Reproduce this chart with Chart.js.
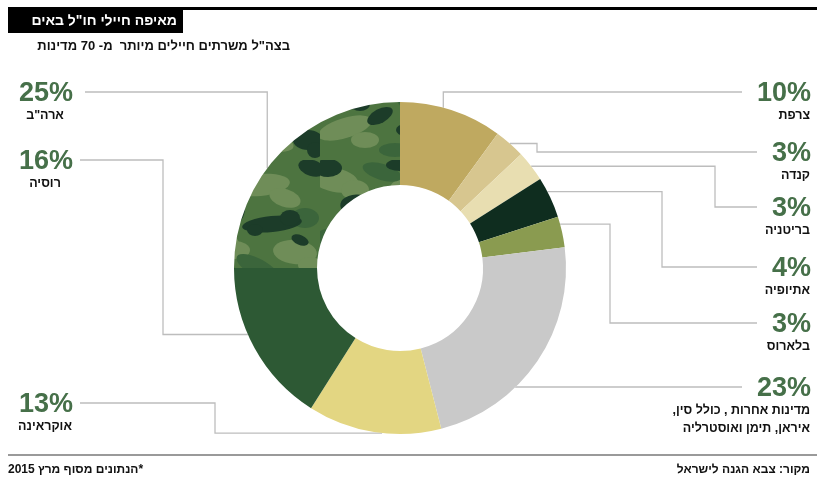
<!DOCTYPE html>
<html lang="he">
<head>
<meta charset="utf-8">
<script src="https://cdn.jsdelivr.net/npm/chart.js@4.4.1/dist/chart.umd.min.js"></script>
<style>
  html, body { margin: 0; padding: 0; background: #fff; }
  #wrap { width: 817px; height: 477px; }
</style>
</head>
<body>
<div id="wrap"><canvas id="soldiers-chart" width="817" height="477"></canvas></div>
<script>
// Data - clockwise from 12 o'clock
const countries = ['צרפת', 'קנדה', 'בריטניה', 'אתיופיה', 'בלארוס',
  'מדינות אחרות , כולל סין,\nאיראן, תימן ואוסטרליה', 'אוקראינה', 'רוסיה', 'ארה"ב'];
const shares = [10, 3, 3, 4, 3, 23, 13, 16, 25]; // percent

const titleText = 'מאיפה חיילי חו"ל באים';
const subtitleText = 'בצה"ל משרתים חיילים מיותר  מ- 70 מדינות';
const noteText = '*הנתונים מסוף מרץ 2015';
const sourceText = 'מקור: צבא הגנה לישראל';

const FONT = '"Liberation Sans", "DejaVu Sans", Arial, sans-serif';

// Callout layout (where the leader line leaves the slice and where the label sits)
const calloutLayout = [
  { side: 'r', t: 0.42, elbowX: null, lineY: 92,  endX: 742 },
  { side: 'r', t: 0.5,  elbowX: 537,  lineY: 152, endX: 757 },
  { side: 'r', t: 0.5,  elbowX: 715,  lineY: 207, endX: 757 },
  { side: 'r', t: 0.35, elbowX: 662,  lineY: 267, endX: 757 },
  { side: 'r', t: 0.25, elbowX: 610,  lineY: 323, endX: 757 },
  { side: 'r', t: 0.64, elbowX: null, lineY: 387, endX: 742 },
  { side: 'l', t: 0.44, elbowX: 215,  lineY: 403, endX: 80 },
  { side: 'l', t: 0.59, elbowX: 163,  lineY: 160, endX: 80 },
  { side: 'l', t: 0.41, elbowX: null, lineY: 92,  endX: 85 }
];

// camouflage texture for the US slice (irregular blobs built from overlapping ellipses)
function camoPattern() {
  const c = document.createElement('canvas');
  c.width = 160; c.height = 160;
  const g = c.getContext('2d');
  g.fillStyle = '#4d7440';
  g.fillRect(0, 0, 160, 160);
  const blobs = (color, list) => {
    g.fillStyle = color;
    list.forEach(b => {
      g.beginPath();
      g.ellipse(b[0], b[1], b[2], b[3], b[4], 0, Math.PI * 2);
      g.fill();
    });
  };
  // light olive patches
  blobs('#6f8d58', [
    [15, 20, 24, 12, 0.2], [35, 30, 14, 10, 0], [100, 25, 30, 11, -0.1], [125, 38, 16, 9, 0.3],
    [55, 78, 26, 13, 0.4], [75, 90, 15, 9, 0], [135, 92, 22, 12, 0.1], [150, 105, 12, 8, 0],
    [25, 128, 28, 10, -0.3], [45, 140, 14, 8, 0], [110, 142, 24, 9, 0.2]
  ]);
  // mid green
  blobs('#3b653b', [
    [62, 12, 20, 8, 0.3], [145, 58, 14, 10, 0], [10, 78, 18, 10, -0.2],
    [98, 108, 24, 9, 0.5], [75, 150, 16, 7, 0]
  ]);
  // dark streaks
  blobs('#1c3c29', [
    [42, 48, 22, 13, 0.2], [58, 42, 12, 9, -0.4], [28, 55, 10, 7, 0],
    [112, 64, 30, 8, -0.1], [130, 58, 10, 8, 0], [95, 70, 8, 6, 0],
    [78, 50, 7, 14, 0.2],
    [22, 100, 26, 9, 0.1], [40, 104, 10, 7, 0], [5, 96, 8, 6, 0],
    [108, 124, 20, 10, 0.7], [120, 132, 10, 7, 0],
    [148, 140, 15, 10, 0], [155, 150, 8, 8, 0],
    [8, 8, 14, 9, 0], [152, 8, 14, 8, 0.3], [80, 5, 14, 6, 0],
    [60, 116, 14, 7, -0.5], [85, 130, 9, 6, 0], [140, 80, 9, 5, 0.4]
  ]);
  return g.createPattern(c, 'repeat');
}

const sliceColors = ['#bfa960', '#d7c68f', '#e8deb1', '#0f2d1f', '#8a9b50',
  '#c9c9c9', '#e3d682', '#2d5934', camoPattern()];

const leaderLines = {
  id: 'leaderLines',
  beforeDatasetsDraw(chart) {
    const ctx = chart.ctx;
    const arcs = chart.getDatasetMeta(0).data;
    ctx.save();
    ctx.strokeStyle = '#bdbdbd';
    ctx.lineWidth = 1.3;
    arcs.forEach((arc, i) => {
      const lay = calloutLayout[i];
      const a = arc.startAngle + lay.t * (arc.endAngle - arc.startAngle);
      const ax = arc.x + Math.cos(a) * arc.outerRadius;
      const ay = arc.y + Math.sin(a) * arc.outerRadius;
      ctx.beginPath();
      ctx.moveTo(ax, ay);
      if (lay.elbowX !== null) {
        ctx.lineTo(lay.elbowX, ay);
        ctx.lineTo(lay.elbowX, lay.lineY);
      } else {
        ctx.lineTo(ax, lay.lineY);
      }
      ctx.lineTo(lay.endX, lay.lineY);
      ctx.stroke();
    });
    ctx.restore();
  },
  afterDraw(chart) {
    const ctx = chart.ctx;
    ctx.save();
    ctx.textBaseline = 'middle';

    // header
    ctx.fillStyle = '#000';
    ctx.fillRect(8, 7, 809, 3);
    ctx.fillRect(8, 7, 175, 26);
    ctx.direction = 'rtl';
    ctx.textAlign = 'right';
    ctx.fillStyle = '#fff';
    ctx.font = 'bold 14px ' + FONT;
    ctx.fillText(titleText, 177, 21);
    ctx.fillStyle = '#111';
    ctx.font = 'bold 13px ' + FONT;
    ctx.fillText(subtitleText, 290, 46);

    // footer
    ctx.fillStyle = '#9a9a9a';
    ctx.fillRect(8, 454, 809, 2);
    ctx.fillStyle = '#111';
    ctx.font = 'bold 12px ' + FONT;
    ctx.textAlign = 'left';
    ctx.fillText(noteText, 8, 470);
    ctx.textAlign = 'right';
    ctx.fillText(sourceText, 810, 470);

    // callout labels
    countries.forEach((name, i) => {
      const lay = calloutLayout[i];
      const right = lay.side === 'r';
      ctx.direction = 'ltr';
      ctx.textAlign = 'right';
      ctx.fillStyle = '#467049';
      ctx.font = 'bold 27px ' + FONT;
      ctx.fillText(shares[i] + '%', right ? 811 : 73, lay.lineY + 2);
      ctx.direction = 'rtl';
      ctx.fillStyle = '#111';
      ctx.font = 'bold 12.5px ' + FONT;
      ctx.textAlign = right ? 'right' : 'center';
      name.split('\n').forEach((line, k) => {
        ctx.fillText(line, right ? 810 : 45, lay.lineY + 24 + k * 18);
      });
    });
    ctx.restore();
  }
};

new Chart(document.getElementById('soldiers-chart'), {
  type: 'doughnut',
  data: {
    labels: countries,
    datasets: [{
      data: shares,
      backgroundColor: sliceColors,
      borderWidth: 0
    }]
  },
  options: {
    responsive: false,
    animation: false,
    events: [],
    cutout: '50%',
    layout: { padding: { left: 234, right: 251, top: 102, bottom: 43 } },
    plugins: {
      legend: { display: false },
      tooltip: { enabled: false }
    }
  },
  plugins: [leaderLines]
});
</script>
</body>
</html>
